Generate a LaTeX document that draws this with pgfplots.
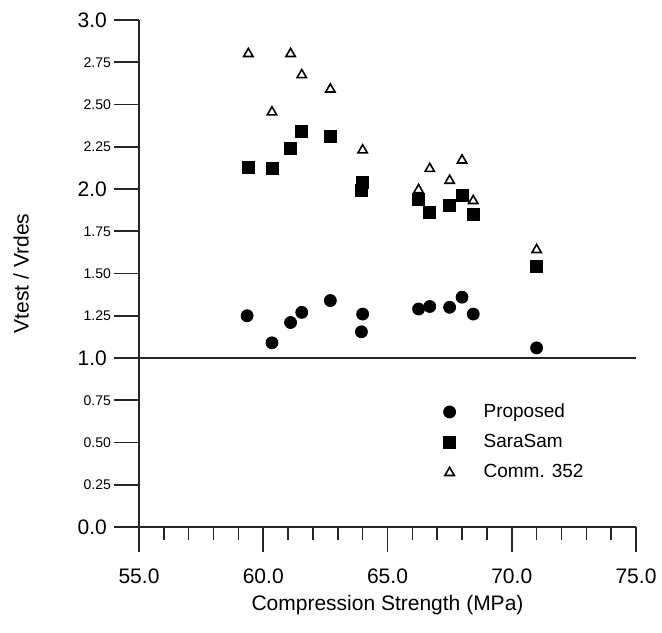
\documentclass[border=0pt]{standalone}
\usepackage{fontspec}
\setmainfont{Liberation Sans}
\usepackage{pgfplots}
\pgfplotsset{compat=1.18}
\usetikzlibrary{calc}

\begin{document}
\begin{tikzpicture}
\begin{axis}[
    scale only axis,
    width=248.5pt, height=253.5pt,
    xmin=55, xmax=75, ymin=0, ymax=3,
    axis x line=bottom, axis y line=left,
    axis line style={-, thick, black!85},
    tick style={thick, black!85},
    tick align=outside,
    major tick length=12.5pt, minor tick length=6.5pt,
    xtick={55,60,65,70,75},
    xticklabels={55.0,60.0,65.0,70.0,75.0},
    xticklabel style={yshift=-5pt},
    minor x tick num=4,
    ytick={0,1,2,3},
    yticklabels={0.0,1.0,2.0,3.0},
    extra y ticks={0.25,0.5,0.75,1.25,1.5,1.75,2.25,2.5,2.75},
    extra y tick labels={0.25,0.50,0.75,1.25,1.50,1.75,2.25,2.50,2.75},
    extra y tick style={yticklabel style={font=\fontsize{7}{8}\selectfont, xshift=2pt}},
    ticklabel style={font=\fontsize{10.5}{12}\selectfont},
    xlabel={Compression Strength (MPa)},
    ylabel={Vtest / Vrdes},
    label style={font=\fontsize{10.5}{12}\selectfont},
    xlabel style={at={(rel axis cs:0.5,0)}, anchor=center, yshift=-39pt},
    ylabel style={at={(rel axis cs:0,0.5)}, anchor=center, yshift=59pt},
    legend style={draw=none, fill=none, at={(rel axis cs:0.6,0.26)}, anchor=north west,
        font=\fontsize{9.5}{11}\selectfont, row sep=3pt,
        /tikz/every odd column/.append style={column sep=12pt}},
    legend cell align=left,
    clip=false,
]
% reference line at 1.0
\draw[thick, black!85] (axis cs:55,1) -- (axis cs:75,1);

% Proposed
\addplot[only marks, mark=*, mark size=3pt, black] coordinates {
(59.35,1.25) (60.35,1.09) (61.1,1.21) (61.55,1.27) (62.7,1.34)
(64.0,1.26) (63.95,1.155) (66.25,1.29) (66.7,1.305) (67.5,1.30)
(68.0,1.36) (68.45,1.26) (71.0,1.06)
};
\addlegendentry{Proposed}

% SaraSam
\addplot[only marks, mark=square*, mark size=3pt, black] coordinates {
(59.4,2.13) (60.35,2.12) (61.1,2.24) (61.55,2.34) (62.7,2.31)
(64.0,2.04) (63.95,1.99) (66.25,1.94) (66.7,1.86) (67.5,1.905)
(68.0,1.96) (68.45,1.85) (71.0,1.54)
};
\addlegendentry{SaraSam}

% Comm. 352
\addplot[only marks, mark=triangle, mark size=2.7pt, thick, black] coordinates {
(59.4,2.80) (61.1,2.80) (61.55,2.675) (62.7,2.59) (60.35,2.455)
(64.0,2.23) (66.25,1.995) (66.7,2.12) (67.5,2.05) (68.0,2.17)
(68.45,1.93) (71.0,1.64)
};
\addlegendentry{Comm. 352}

\coordinate (ll) at (rel axis cs:0,0);
\coordinate (ur) at (rel axis cs:1,1);
\end{axis}
\pgfresetboundingbox
\path[use as bounding box] ($(ll)+(-69.5pt,-52.5pt)$) rectangle ($(ur)+(13pt,10pt)$);
\end{tikzpicture}
\end{document}
